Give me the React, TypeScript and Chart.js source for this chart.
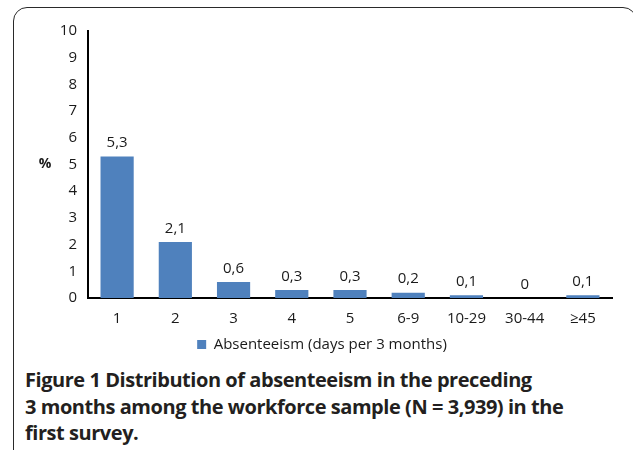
import React, { useEffect, useRef } from "react";
import { Chart, registerables } from "chart.js";

Chart.register(...registerables);

const categories = ["1", "2", "3", "4", "5", "6-9", "10-29", "30-44", "≥45"];
const values = [5.3, 2.1, 0.6, 0.3, 0.3, 0.2, 0.1, 0, 0.1];
const valueLabels = ["5,3", "2,1", "0,6", "0,3", "0,3", "0,2", "0,1", "0", "0,1"];
const seriesName = "Absenteeism (days per 3 months)";
const yTicks = [0, 1, 2, 3, 4, 5, 6, 7, 8, 9, 10];
const yTitle = "%";

const FONT = "'Open Sans', sans-serif";
const TEXT = "#1a1a1a";
const BLUE = "#4F81BD";
const FS = 15;

const labelsPlugin = {
  id: "valueLabels",
  afterDatasetsDraw(chart: any) {
    const { ctx } = chart;
    const meta = chart.getDatasetMeta(0);
    ctx.save();
    ctx.font = `${FS}px ${FONT}`;
    ctx.fillStyle = TEXT;
    ctx.textAlign = "center";
    ctx.textBaseline = "bottom";
    meta.data.forEach((bar: any, i: number) => {
      ctx.fillText(valueLabels[i], bar.x, bar.y - 6);
    });
    const y = chart.scales.y;
    ctx.font = `bold 14px ${FONT}`;
    ctx.textBaseline = "middle";
    ctx.fillText(yTitle, 45, (y.top + y.bottom) / 2);
    ctx.restore();
  },
};

export default function App() {
  const ref = useRef<HTMLCanvasElement>(null);
  useEffect(() => {
    const chart = new Chart(ref.current!, {
      type: "bar",
      data: {
        labels: categories,
        datasets: [
          {
            label: seriesName,
            data: values,
            backgroundColor: BLUE,
            barPercentage: 0.57,
            categoryPercentage: 1,
          },
        ],
      },
      plugins: [labelsPlugin],
      options: {
        animation: false,
        responsive: false,
        layout: { padding: { top: 31, right: 21, left: 32, bottom: 0 } },
        plugins: {
          tooltip: { enabled: false },
          legend: {
            position: "bottom",
            labels: {
              boxWidth: 9,
              boxHeight: 9,
              color: TEXT,
              font: { family: FONT, size: FS },
              padding: 9,
            },
          },
        },
        scales: {
          x: {
            grid: { display: false, drawTicks: false },
            border: { color: "#000", width: 2 },
            ticks: { color: TEXT, font: { family: FONT, size: FS }, padding: 12 },
            afterFit: (s: any) => {
              s.height = 30;
            },
          },
          y: {
            min: 0,
            max: 10,
            afterBuildTicks: (s: any) => {
              s.ticks = yTicks.map((v) => ({ value: v }));
            },
            grid: { display: false, drawTicks: false },
            border: { color: "#000", width: 2 },
            ticks: { color: TEXT, font: { family: FONT, size: FS }, padding: 11 },
            afterFit: (s: any) => {
              s.width = 56;
            },
          },
        },
      },
    } as any);
    return () => chart.destroy();
  }, []);

  return (
    <div
      style={{
        position: "fixed",
        left: 0,
        top: 0,
        width: 633,
        height: 450,
        overflow: "hidden",
        background: "#fff",
      }}
    >
      <div
        style={{
          position: "absolute",
          left: 13,
          top: 7,
          width: 624,
          height: 460,
          border: "1.5px solid #2a2a2a",
          borderRadius: 14,
          boxSizing: "border-box",
        }}
      />
      <canvas
        ref={ref}
        width={633}
        height={362}
        style={{ position: "absolute", left: 0, top: 0, width: 633, height: 362 }}
      />
      <div
        style={{
          position: "absolute",
          left: 25,
          top: 367,
          width: 605,
          fontFamily: FONT,
          fontSize: 20,
          fontWeight: 700,
          lineHeight: "26.5px",
          color: "#231f20",
          letterSpacing: -0.45,
          whiteSpace: "nowrap",
        }}
      >
        Figure 1 Distribution of absenteeism in the preceding
        <br />3 months among the workforce sample (N = 3,939) in the
        <br />
        first survey.
      </div>
    </div>
  );
}
